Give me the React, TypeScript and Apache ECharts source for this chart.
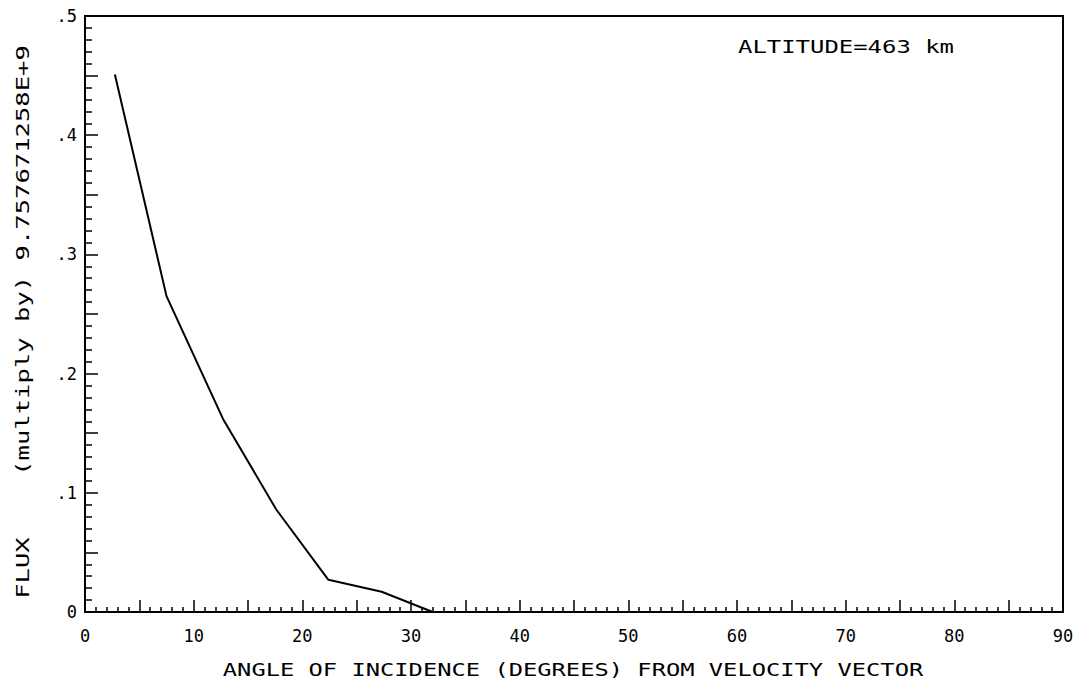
import React, { useEffect, useRef } from "react";
import * as echarts from "echarts";

const angles = [2.75, 7.5, 12.7, 17.6, 22.4, 27.3, 32.0];
const flux = [0.451, 0.265, 0.162, 0.086, 0.027, 0.017, 0.0];
const xTitle = "ANGLE OF INCIDENCE (DEGREES) FROM VELOCITY VECTOR";
const yTitle = "FLUX    (multiply by) 9.757671258E+9";
const note = "ALTITUDE=463 km";

const FONT = "'DejaVu Sans Mono', 'Liberation Mono', monospace";

export default function App() {
  const ref = useRef<HTMLDivElement>(null);
  useEffect(() => {
    if (!ref.current) return;
    const chart = echarts.init(ref.current, null, { renderer: "svg" });
    const data = angles.map((a, i) => [a, flux[i]]);
    chart.setOption({
      animation: false,
      backgroundColor: "#fff",
      grid: {
        left: 85,
        top: 16,
        width: 978,
        height: 596,
        show: true,
        borderColor: "#000",
        borderWidth: 2,
        backgroundColor: "transparent",
      },
      xAxis: {
        type: "value",
        min: 0,
        max: 90,
        interval: 5,
        axisLine: { show: true, onZero: false, lineStyle: { color: "#000", width: 2 } },
        axisTick: { show: true, inside: true, length: 12, lineStyle: { color: "#000", width: 1.5 } },
        minorTick: { show: true, splitNumber: 5, length: 5, lineStyle: { color: "#000", width: 1.5 } },
        splitLine: { show: false },
        minorSplitLine: { show: false },
        axisLabel: {
          color: "#000",
          fontFamily: FONT,
          fontSize: 17,
          margin: 15,
          formatter: (v: number) => (Math.round(v) % 10 === 0 ? String(Math.round(v)) : ""),
        },
      },
      yAxis: {
        type: "value",
        min: 0,
        max: 0.5,
        interval: 0.05,
        axisLine: { show: true, onZero: false, lineStyle: { color: "#000", width: 2 } },
        axisTick: { show: true, inside: true, length: 13, lineStyle: { color: "#000", width: 1.5 } },
        minorTick: { show: true, splitNumber: 5, length: 7, lineStyle: { color: "#000", width: 1.5 } },
        splitLine: { show: false },
        minorSplitLine: { show: false },
        axisLabel: {
          color: "#000",
          fontFamily: FONT,
          fontSize: 17,
          margin: 8,
          formatter: (v: number) => {
            const k = Math.round(v * 100);
            if (k % 10 !== 0) return "";
            if (k === 0) return "0";
            return "." + k / 10;
          },
        },
      },
      series: [
        {
          type: "line",
          data,
          symbol: "none",
          lineStyle: { color: "#000", width: 2 },
        },
      ],
      graphic: [
        {
          type: "text",
          x: 573,
          y: 670,
          scaleX: 1.32,
          style: {
            text: xTitle,
            font: `18px ${FONT}`,
            fill: "#000",
            textAlign: "center",
            textVerticalAlign: "middle",
          },
        },
        {
          type: "text",
          x: 22,
          y: 322,
          rotation: Math.PI / 2,
          scaleX: 1.42,
          style: {
            text: yTitle,
            font: `18px ${FONT}`,
            fill: "#000",
            textAlign: "center",
            textVerticalAlign: "middle",
          },
        },
        {
          type: "text",
          x: 846,
          y: 47,
          scaleX: 1.33,
          style: {
            text: note,
            font: `18px ${FONT}`,
            fill: "#000",
            textAlign: "center",
            textVerticalAlign: "middle",
          },
        },
      ],
    });
    return () => chart.dispose();
  }, []);
  return (
    <div
      ref={ref}
      style={{ width: 1083, height: 685, position: "absolute", left: 0, top: 0, background: "#fff" }}
    />
  );
}
